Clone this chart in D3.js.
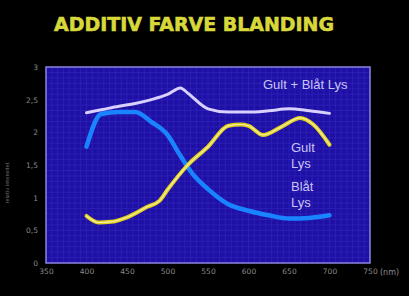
<!DOCTYPE html>
<html>
<head>
<meta charset="utf-8">
<script src="https://cdn.jsdelivr.net/npm/d3@7"></script>
<style>
  body { margin: 0; background: #000; }
  svg { display: block; }
</style>
</head>
<body>
<svg width="409" height="296"></svg>
<script>
// Data
var whiteX  = [400, 420, 440, 460, 480, 500, 516, 525, 550, 575, 600, 625, 650, 675, 700];
var whiteY  = [2.30, 2.35, 2.40, 2.44, 2.50, 2.58, 2.68, 2.60, 2.36, 2.31, 2.31, 2.33, 2.36, 2.33, 2.29];

var blueX   = [400, 418, 440, 460, 480, 500, 515, 530, 550, 575, 600, 625, 650, 675, 700];
var blueY   = [1.78, 2.28, 2.31, 2.31, 2.16, 1.96, 1.66, 1.38, 1.13, 0.90, 0.80, 0.73, 0.68, 0.69, 0.73];

var yellowX = [400, 415, 430, 450, 475, 490, 500, 525, 550, 575, 590, 600, 618, 640, 664, 680, 700];
var yellowY = [0.72, 0.62, 0.63, 0.70, 0.86, 0.95, 1.12, 1.50, 1.78, 2.10, 2.12, 2.10, 1.96, 2.08, 2.22, 2.12, 1.81];

var xTicks = [350, 400, 450, 500, 550, 600, 650, 700, 750];
var yTicks = [0, 0.5, 1, 1.5, 2, 2.5, 3];

var svg = d3.select("svg"),
    width = +svg.attr("width"),
    height = +svg.attr("height");

var plotL = 46, plotR = 370, plotT = 67, plotB = 263;

var x = d3.scaleLinear().domain([350, 750]).range([plotL, plotR]);
var y = d3.scaleLinear().domain([0, 3]).range([plotB, plotT]);

// background
svg.append("rect").attr("width", width).attr("height", height).attr("fill", "#000");

// title
svg.append("text")
  .attr("x", 54).attr("y", 31)
  .attr("textLength", 280)
  .attr("lengthAdjust", "spacingAndGlyphs")
  .style("font-family", "DejaVu Sans")
  .style("font-weight", "bold")
  .style("font-size", "19px")
  .style("fill", "#d8d83a")
  .style("stroke", "#d8d83a")
  .style("stroke-width", 0.6)
  .text("ADDITIV FARVE BLANDING");

// plot area
svg.append("rect")
  .attr("x", plotL).attr("y", plotT)
  .attr("width", plotR - plotL).attr("height", plotB - plotT)
  .attr("fill", "#1e10a4");

// fine grid
var gridX = d3.range(350, 750, 50 / 7);
var gridY = d3.range(0, 3, 0.5 / 6);
svg.append("g").selectAll("line")
  .data(gridX.slice(1))
  .enter().append("line")
    .attr("x1", function(d){ return x(d) }).attr("x2", function(d){ return x(d) })
    .attr("y1", plotT).attr("y2", plotB)
    .attr("stroke", "#2e22b8").attr("stroke-width", 0.8);
svg.append("g").selectAll("line")
  .data(gridY.slice(1))
  .enter().append("line")
    .attr("y1", function(d){ return y(d) }).attr("y2", function(d){ return y(d) })
    .attr("x1", plotL).attr("x2", plotR)
    .attr("stroke", "#2e22b8").attr("stroke-width", 0.8);

// border
svg.append("rect")
  .attr("x", plotL).attr("y", plotT)
  .attr("width", plotR - plotL).attr("height", plotB - plotT)
  .attr("fill", "none")
  .attr("stroke", "#8c84e0").attr("stroke-width", 1.5);

// axes
var fmt = function(d){ return String(d).replace(".", ",") };
var yAxis = svg.append("g")
  .attr("transform", "translate(" + plotL + ",0)")
  .call(d3.axisLeft(y).tickValues(yTicks).tickFormat(fmt).tickSize(0).tickPadding(8));
var xAxis = svg.append("g")
  .attr("transform", "translate(0," + plotB + ")")
  .call(d3.axisBottom(x).tickValues(xTicks).tickSize(0).tickPadding(6));
[xAxis, yAxis].forEach(function(a){
  a.select(".domain").remove();
  a.selectAll("text")
    .style("font-family", "DejaVu Sans")
    .style("font-size", "7.5px")
    .style("fill", "#8a8a8a");
});

svg.append("text")
  .attr("x", 380).attr("y", 275)
  .style("font-family", "DejaVu Sans").style("font-size", "8px")
  .style("fill", "#8a8a8a")
  .text("(nm)");

svg.append("text")
  .attr("transform", "translate(9,183) rotate(-90)")
  .attr("text-anchor", "middle")
  .style("font-family", "DejaVu Sans").style("font-size", "5px")
  .style("fill", "#7a7a7a")
  .text("relativ intensitet");

// curves
function series(xs, ys){ return xs.map(function(v, i){ return [v, ys[i]] }) }
var line = d3.line()
  .x(function(d){ return x(d[0]) })
  .y(function(d){ return y(d[1]) })
  .curve(d3.curveMonotoneX);

function drawLine(pts, color, w){
  svg.append("path")
    .datum(pts)
    .attr("d", line)
    .attr("fill", "none")
    .attr("stroke", color)
    .attr("stroke-width", w)
    .attr("stroke-linejoin", "round")
    .attr("stroke-linecap", "round");
}

drawLine(series(blueX, blueY), "#1a84ff", 4.5);
drawLine(series(yellowX, yellowY), "#e0d020", 4);
drawLine(series(yellowX, yellowY), "#f8f0a0", 1.2);
drawLine(series(whiteX, whiteY), "#d8d0ff", 3);

// labels
var labels = [
  {t: "Gult + Blåt Lys", x: 263, y: 89},
  {t: "Gult", x: 291, y: 152},
  {t: "Lys", x: 291, y: 168},
  {t: "Blåt", x: 291, y: 191},
  {t: "Lys", x: 291, y: 207}
];
svg.selectAll("myLabels")
  .data(labels)
  .enter().append("text")
    .attr("x", function(d){ return d.x }).attr("y", function(d){ return d.y })
    .style("font-family", "Liberation Sans")
    .style("font-size", "13px")
    .style("fill", "#c8c4f4")
    .text(function(d){ return d.t });
</script>
</body>
</html>
